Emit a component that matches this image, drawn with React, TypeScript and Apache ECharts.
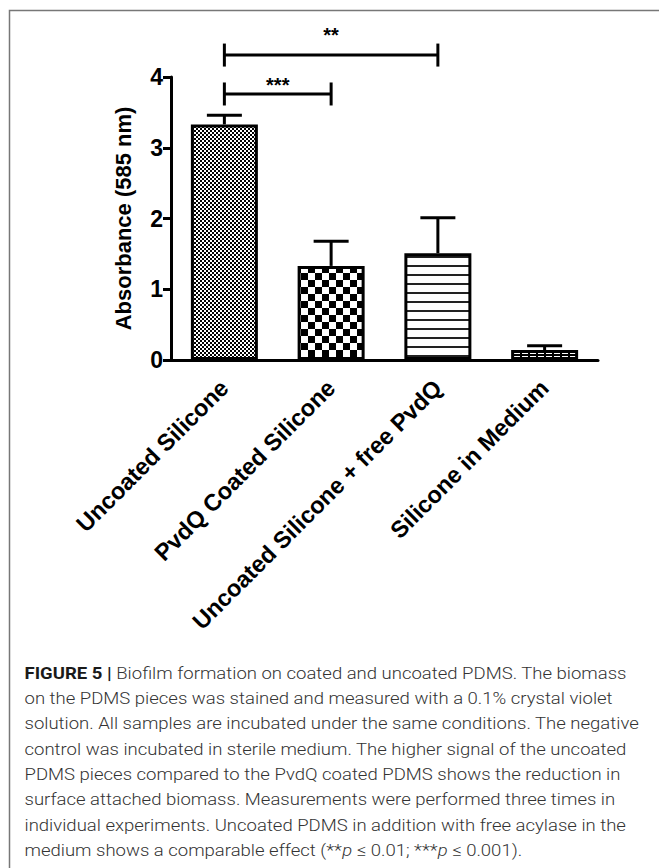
import React, { useEffect, useRef } from 'react';
import * as echarts from 'echarts';

const categories = [
  'Uncoated Silicone',
  'PvdQ Coated Silicone',
  'Uncoated Silicone + free PvdQ',
  'Silicone in Medium',
];
const meanValues = [3.33, 1.33, 1.51, 0.14];
const upperValues = [3.46, 1.68, 2.01, 0.2];

const bracketFrom = [0, 0];
const bracketTo = [1, 2];
const bracketLevel = [3.76, 4.31];
const bracketLabelLevel = [3.89, 4.6];
const bracketLabels = ['***', '**'];

const yAxisTitle = 'Absorbance (585 nm)';

const captionLines = [
  '{b|FIGURE 5 |} Biofilm formation on coated and uncoated PDMS. The biomass',
  'on the PDMS pieces was stained and measured with a 0.1% crystal violet',
  'solution. All samples are incubated under the same conditions. The negative',
  'control was incubated in sterile medium. The higher signal of the uncoated',
  'PDMS pieces compared to the PvdQ coated PDMS shows the reduction in',
  'surface attached biomass. Measurements were performed three times in',
  'individual experiments. Uncoated PDMS in addition with free acylase in the',
  'medium shows a comparable effect (**{i|p} \u2264 0.01; ***{i|p} \u2264 0.001).',
];

const FONT = 'Liberation Sans';
const CAP_FONT = 'Roboto';

function makePattern(kind: number) {
  const c = document.createElement('canvas');
  let w = 4, h = 4;
  if (kind === 0) { w = 4; h = 4; }
  if (kind === 1) { w = 14; h = 14; }
  if (kind === 2) { w = 4; h = 9; }
  if (kind === 3) { w = 8; h = 6; }
  c.width = w; c.height = h;
  const g = c.getContext('2d')!;
  g.fillStyle = '#fff';
  g.fillRect(0, 0, w, h);
  g.fillStyle = '#000';
  if (kind === 0) {
    g.fillRect(0, 0, 2, 2);
    g.fillRect(2, 2, 2, 2);
  } else if (kind === 1) {
    g.fillRect(0, 0, 7, 7);
    g.fillRect(7, 7, 7, 7);
  } else if (kind === 2) {
    g.fillStyle = '#222';
    g.fillRect(0, 4, w, 2);
  } else {
    g.fillRect(0, 0, 2, h);
    g.fillRect(0, 0, w, 2);
  }
  return { image: c, repeat: 'repeat', imageWidth: w, imageHeight: h } as any;
}

export default function App() {
  const ref = useRef<HTMLDivElement>(null);
  useEffect(() => {
    document.body.style.margin = '0';
    const chart = echarts.init(ref.current!, undefined, { renderer: 'svg' });

    const mc = document.createElement('canvas').getContext('2d')!;
    mc.font = `300 17px ${CAP_FONT}`;
    const measured = mc.measureText(captionLines[2]).width;
    const capScale = 615 / measured;

    const patterns = [0, 1, 2, 3].map(makePattern);

    const captionGraphics = captionLines.map((t, i) => ({
      type: 'text',
      x: 24.5,
      y: 673 + i * 25.3,
      scaleX: capScale,
      style: {
        text: t,
        fill: '#333',
        font: `300 17px ${CAP_FONT}`,
        verticalAlign: 'middle',
        align: 'left',
        rich: {
          b: { fontWeight: 'bold', fill: '#1a1a1a', fontFamily: CAP_FONT, fontSize: 17 },
          i: { fontStyle: 'italic', fill: '#333', fontFamily: CAP_FONT, fontSize: 17, fontWeight: 300 },
        },
      },
    }));

    const option: any = {
      animation: false,
      backgroundColor: '#fff',
      grid: { left: 171, right: 61, top: 77, bottom: 508, containLabel: false },
      xAxis: {
        type: 'category',
        data: categories,
        axisLine: { lineStyle: { color: '#000', width: 3 } },
        axisTick: { alignWithLabel: true, length: 8, lineStyle: { color: '#000', width: 3 } },
        axisLabel: {
          rotate: 45,
          interval: 0,
          margin: 24,
          color: '#000',
          fontSize: 23.5,
          fontWeight: 'bold',
          fontFamily: FONT,
        },
      },
      yAxis: {
        type: 'value',
        min: 0,
        max: 4,
        interval: 1,
        name: yAxisTitle,
        nameLocation: 'middle',
        nameRotate: 90,
        nameGap: 37,
        nameTextStyle: { color: '#000', fontSize: 22, fontWeight: 'bold', fontFamily: FONT },
        axisLine: { show: true, lineStyle: { color: '#000', width: 3 } },
        axisTick: { show: true, length: 8, lineStyle: { color: '#000', width: 3 } },
        splitLine: { show: false },
        axisLabel: { margin: 8, color: '#000', fontSize: 23, fontWeight: 'bold', fontFamily: FONT },
      },
      series: [
        {
          type: 'bar',
          barWidth: 67,
          data: meanValues.map((v, i) => ({ value: v, itemStyle: { color: patterns[i] } })),
          itemStyle: { borderColor: '#000', borderWidth: 3 },
          z: 2,
        },
        {
          type: 'custom',
          z: 3,
          clip: false,
          data: meanValues.map((m, i) => [i, m, upperValues[i]]),
          encode: { x: 0, y: [1, 2] },
          renderItem: (params: any, api: any) => {
            const x = api.value(0);
            const lo = api.coord([x, api.value(1)]);
            const hi = api.coord([x, api.value(2)]);
            const half = 17.5;
            return {
              type: 'group',
              children: [
                { type: 'line', shape: { x1: lo[0], y1: lo[1], x2: hi[0], y2: hi[1] }, style: { stroke: '#000', lineWidth: 3 } },
                { type: 'line', shape: { x1: hi[0] - half, y1: hi[1], x2: hi[0] + half, y2: hi[1] }, style: { stroke: '#000', lineWidth: 3 } },
              ],
            };
          },
        },
        {
          type: 'custom',
          z: 3,
          clip: false,
          data: bracketFrom.map((f, i) => [f, bracketTo[i], bracketLevel[i], bracketLabelLevel[i]]),
          encode: { x: [0, 1], y: [2, 3] },
          renderItem: (params: any, api: any) => {
            const a = api.coord([api.value(0), api.value(2)]);
            const b = api.coord([api.value(1), api.value(2)]);
            const lab = api.coord([api.value(0), api.value(3)]);
            const tick = 11.5;
            const st = { stroke: '#000', lineWidth: 3 };
            return {
              type: 'group',
              children: [
                { type: 'line', shape: { x1: a[0], y1: a[1], x2: b[0], y2: b[1] }, style: st },
                { type: 'line', shape: { x1: a[0], y1: a[1] - tick, x2: a[0], y2: a[1] + tick }, style: st },
                { type: 'line', shape: { x1: b[0], y1: b[1] - tick, x2: b[0], y2: b[1] + tick }, style: st },
                {
                  type: 'text',
                  style: {
                    text: bracketLabels[params.dataIndex],
                    x: (a[0] + b[0]) / 2,
                    y: lab[1],
                    align: 'center',
                    verticalAlign: 'middle',
                    font: `bold 20px ${FONT}`,
                    fill: '#000',
                  },
                },
              ],
            };
          },
        },
      ],
      graphic: [
        {
          type: 'rect',
          shape: { x: 9.5, y: 10.5, width: 700, height: 900 },
          style: { fill: 'none', stroke: '#777', lineWidth: 1.5 },
          silent: true,
        },
        ...captionGraphics,
      ],
    };
    chart.setOption(option);
    return () => chart.dispose();
  }, []);
  return <div ref={ref} style={{ width: 659, height: 868 }} />;
}
